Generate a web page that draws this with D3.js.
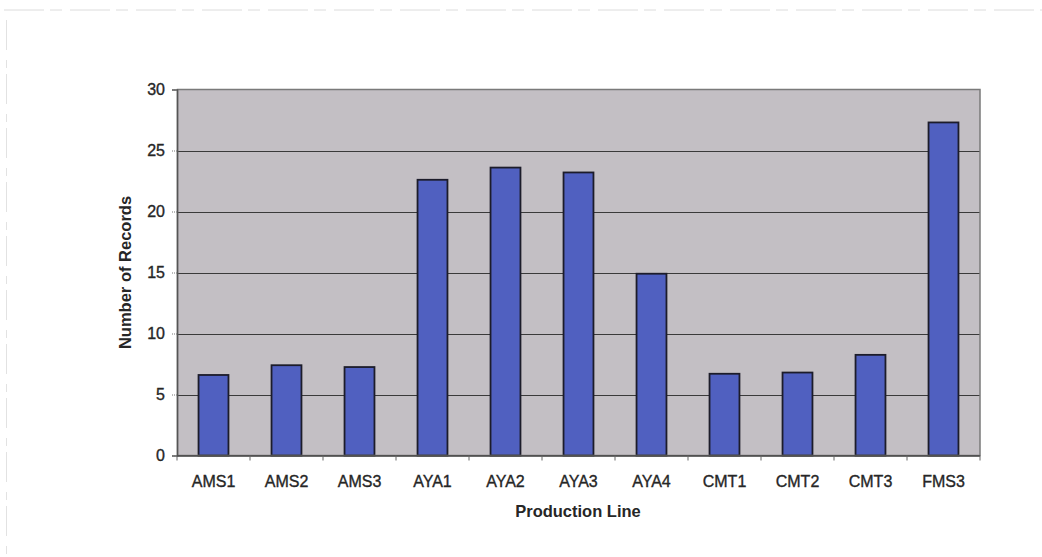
<!DOCTYPE html>
<html>
<head>
<meta charset="utf-8">
<script src="https://cdn.jsdelivr.net/npm/d3@7"></script>
<style>
  html, body { margin: 0; padding: 0; background: #fff; }
  svg { display: block; }
  text { font-family: "Liberation Sans", Arial, sans-serif; fill: #262626; }
</style>
</head>
<body>
<svg id="chart" width="1042" height="557"></svg>
<script>
// Records per production line
const categories = ["AMS1", "AMS2", "AMS3", "AYA1", "AYA2", "AYA3", "AYA4", "CMT1", "CMT2", "CMT3", "FMS3"];
const records = [6.6, 7.4, 7.25, 22.6, 23.6, 23.2, 14.9, 6.7, 6.8, 8.25, 27.3];
const yTicks = [0, 5, 10, 15, 20, 25, 30];

const svg = d3.select("#chart");
const plot = { left: 177, right: 980, top: 89.5, bottom: 455.5 };

// faint page border lines
svg.append("line").attr("x1", 4).attr("x2", 1042).attr("y1", 10).attr("y2", 10)
  .attr("stroke", "#dcdcdc").attr("stroke-width", 1).attr("stroke-dasharray", "40 6 12 8");
svg.append("line").attr("x1", 6.5).attr("x2", 6.5).attr("y1", 20).attr("y2", 557)
  .attr("stroke", "#e2e2e2").attr("stroke-width", 1).attr("stroke-dasharray", "30 10 8 6");

const x = d3.scaleBand().domain(categories).range([plot.left, plot.right]).paddingInner(0.59).paddingOuter(0.295);
const y = d3.scaleLinear().domain([0, 30]).range([plot.bottom, plot.top]);

// plot background
svg.append("rect")
  .attr("x", plot.left).attr("y", plot.top)
  .attr("width", plot.right - plot.left).attr("height", plot.bottom - plot.top)
  .attr("fill", "#c3bfc4");

// gridlines
svg.append("g").selectAll("line").data(yTicks.filter(d => d > 0 && d < 30)).join("line")
  .attr("x1", plot.left).attr("x2", plot.right)
  .attr("y1", d => Math.round(y(d)) + 0.5).attr("y2", d => Math.round(y(d)) + 0.5)
  .attr("stroke", "#3a3a3a").attr("stroke-width", 1);

// bars
svg.append("g").selectAll("rect").data(records).join("rect")
  .attr("x", (d, i) => x(categories[i]))
  .attr("y", d => y(d))
  .attr("width", x.bandwidth())
  .attr("height", d => y(0) - y(d))
  .attr("fill", "#5060c0")
  .attr("stroke", "#1c1c2a").attr("stroke-width", 1.8);

// plot frame
svg.append("rect")
  .attr("x", plot.left + 0.5).attr("y", plot.top)
  .attr("width", plot.right - plot.left - 0.5).attr("height", plot.bottom - plot.top)
  .attr("fill", "none").attr("stroke", "#7a7a7a").attr("stroke-width", 1.5);

// y axis
const yAxis = d3.axisLeft(y).tickValues(yTicks).tickSize(5).tickPadding(7).tickFormat(d3.format("d"));
const gy = svg.append("g").attr("transform", `translate(${plot.left},0)`).call(yAxis);
gy.select(".domain").attr("stroke", "#555").attr("stroke-width", 1.5);
gy.selectAll(".tick line").attr("stroke", "#777").attr("stroke-dasharray", "1 1");
gy.selectAll(".tick text").attr("font-size", 16).attr("fill", "#262626")
  .attr("stroke", "#262626").attr("stroke-width", 0.35);

// x axis with ticks on band boundaries
const gx = svg.append("g").attr("transform", `translate(0,${plot.bottom})`);
gx.append("line").attr("x1", plot.left).attr("x2", plot.right).attr("y1", 0.5).attr("y2", 0.5)
  .attr("stroke", "#444").attr("stroke-width", 1.5);
const boundaries = d3.range(categories.length + 1).map(i => plot.left + i * (plot.right - plot.left) / categories.length);
gx.selectAll("line.tk").data(boundaries).join("line").attr("class", "tk")
  .attr("x1", d => d).attr("x2", d => d).attr("y1", 0).attr("y2", 5)
  .attr("stroke", "#666");
gx.selectAll("text").data(categories).join("text")
  .attr("x", d => x(d) + x.bandwidth() / 2)
  .attr("y", 31.5)
  .attr("text-anchor", "middle")
  .attr("font-size", 16)
  .attr("stroke", "#262626").attr("stroke-width", 0.35)
  .text(d => d);

// axis titles
svg.append("text")
  .attr("x", 578).attr("y", 517)
  .attr("text-anchor", "middle").attr("font-size", 16.5).attr("font-weight", "bold")
  .text("Production Line");
svg.append("text")
  .attr("transform", `translate(131,${(plot.top + plot.bottom) / 2}) rotate(-90)`)
  .attr("text-anchor", "middle").attr("font-size", 16.5).attr("font-weight", "bold")
  .text("Number of Records");
</script>
</body>
</html>
